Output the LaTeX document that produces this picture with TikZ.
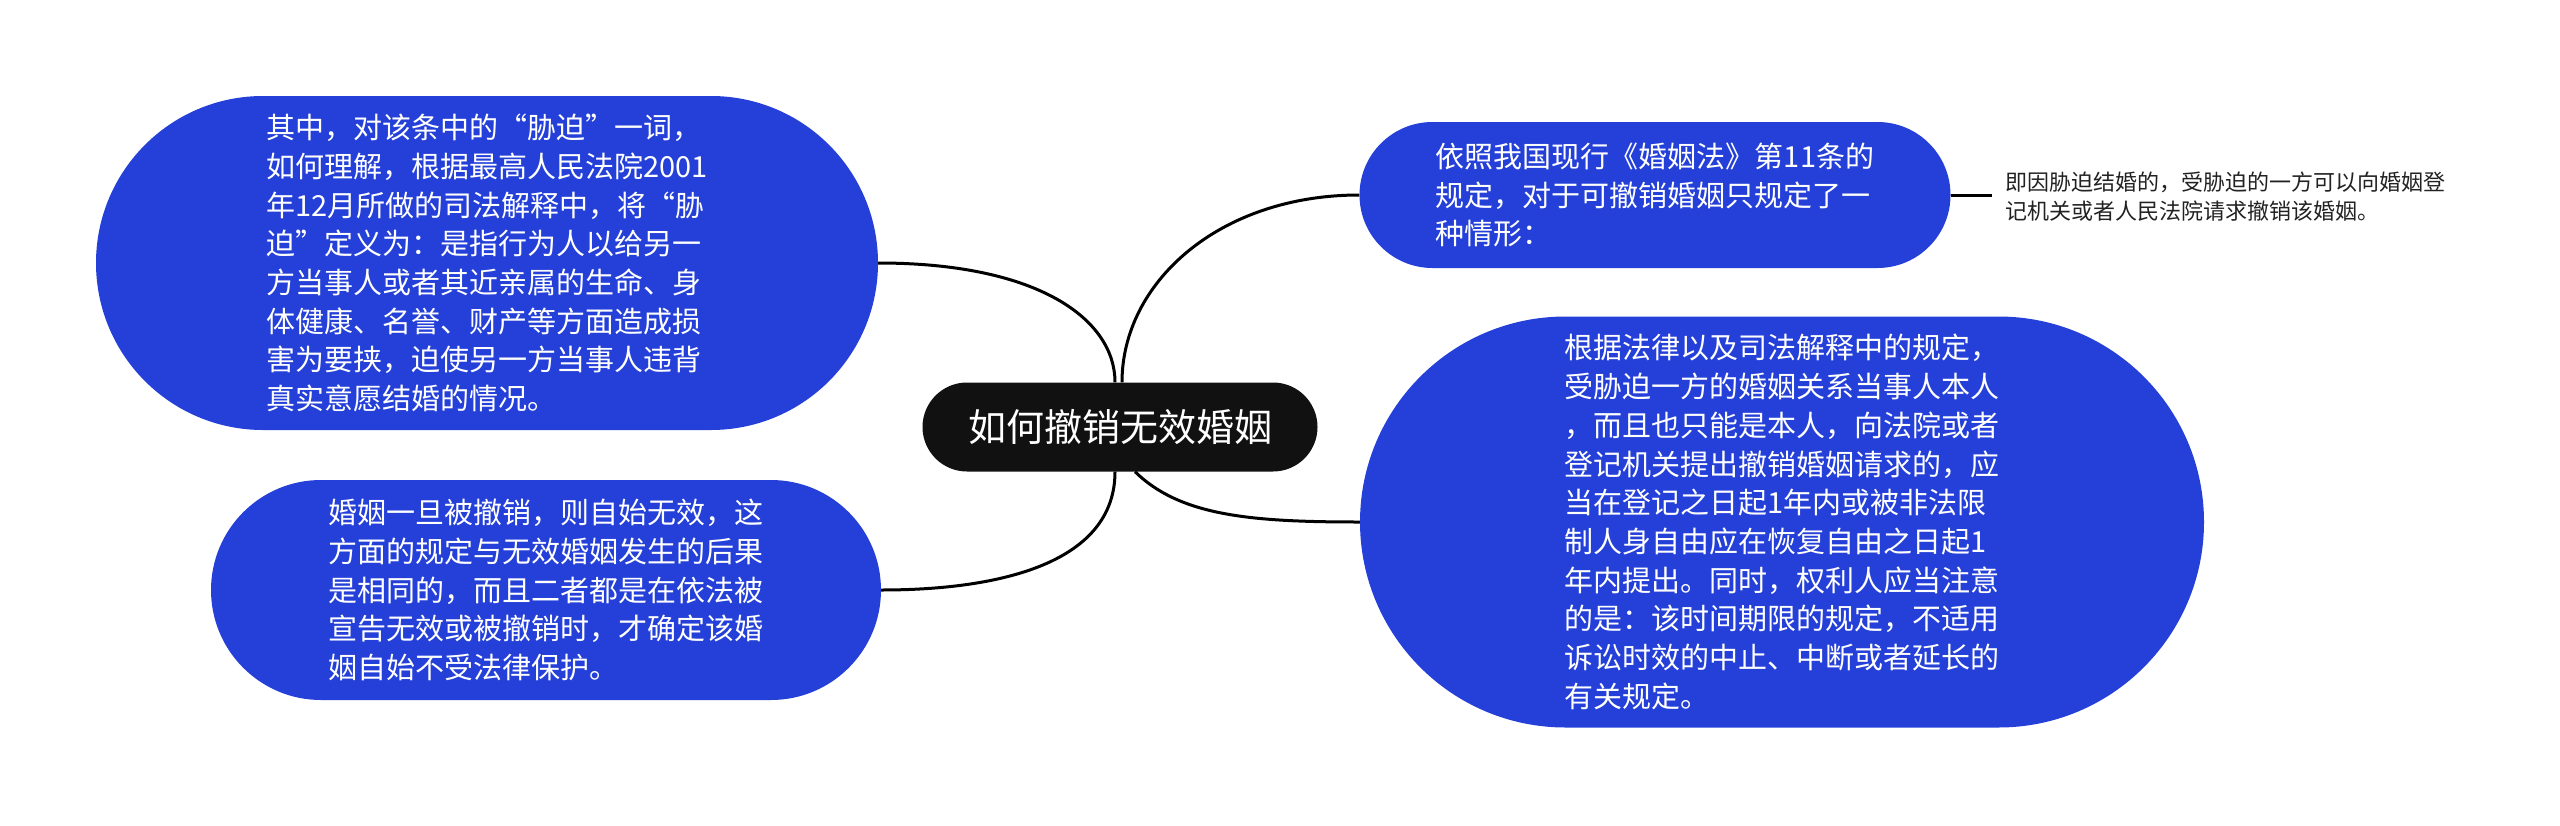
\documentclass[tikz,border=0pt]{standalone}
\usepackage{fontspec}
\newfontfamily\cjk{Noto Sans CJK SC}
\definecolor{nodeblue}{HTML}{2440D8}
\definecolor{rootblack}{HTML}{111111}
\definecolor{leafgray}{HTML}{222222}
\begin{document}
\begin{tikzpicture}[x=1pt,y=-1pt,
  bluenode/.style={fill=nodeblue, text=white, align=left, inner sep=0pt,
    font=\cjk\fontsize{29}{38.7}\selectfont},
  rootnode/.style={fill=rootblack, text=white, inner sep=0pt,
    minimum width=395pt, minimum height=89pt, rounded corners=44.5pt,
    font=\cjk\fontsize{38}{44}\selectfont},
  leafnode/.style={text=leafgray, align=left, inner xsep=13pt, inner ysep=0pt,
    font=\cjk\fontsize{22}{29}\selectfont},
  link/.style={draw=black, line width=3pt}]
\useasboundingbox (0,0) rectangle (2560,825);

\node[rootnode] (c) at (1120,427) {如何撤销无效婚姻};

\node[bluenode, minimum width=782pt, minimum height=334pt, rounded corners=167pt] (tl) at (487,263)
{其中，对该条中的“胁迫”一词，\\如何理解，根据最高人民法院2001\\年12月所做的司法解释中，将“胁\\迫”定义为：是指行为人以给另一\\方当事人或者其近亲属的生命、身\\体健康、名誉、财产等方面造成损\\害为要挟，迫使另一方当事人违背\\真实意愿结婚的情况。};

\node[bluenode, minimum width=670pt, minimum height=220pt, rounded corners=110pt] (bl) at (546,590)
{婚姻一旦被撤销，则自始无效，这\\方面的规定与无效婚姻发生的后果\\是相同的，而且二者都是在依法被\\宣告无效或被撤销时，才确定该婚\\姻自始不受法律保护。};

\node[bluenode, minimum width=591pt, minimum height=146pt, rounded corners=73pt] (tr) at (1655,195)
{依照我国现行《婚姻法》第11条的\\规定，对于可撤销婚姻只规定了一\\种情形：};

\node[bluenode, minimum width=844pt, minimum height=411pt, rounded corners=205.5pt] (rb) at (1782,522)
{根据法律以及司法解释中的规定，\\受胁迫一方的婚姻关系当事人本人\\，而且也只能是本人，向法院或者\\登记机关提出撤销婚姻请求的，应\\当在登记之日起1年内或被非法限\\制人身自由应在恢复自由之日起1\\年内提出。同时，权利人应当注意\\的是：该时间期限的规定，不适用\\诉讼时效的中止、中断或者延长的\\有关规定。};

\node[leafnode, anchor=west] (leaf) at (1992,197)
{即因胁迫结婚的，受胁迫的一方可以向婚姻登\\记机关或者人民法院请求撤销该婚姻。};

\draw[link] (tl.east) .. controls +(162,0) and +(0,-62) .. ([xshift=-5pt]c.north);
\draw[link] ([xshift=2pt]c.north) .. controls +(0,-100) and +(-140,0) .. (tr.west);
\draw[link] ([xshift=-5pt]c.south) .. controls +(0,90) and +(122,0) .. (bl.east);
\draw[link] ([xshift=15pt]c.south) .. controls +(45,44) and +(-110,0) .. (rb.west);
\draw[link] (tr.east) -- (tr.east -| leaf.west);
\end{tikzpicture}
\end{document}
